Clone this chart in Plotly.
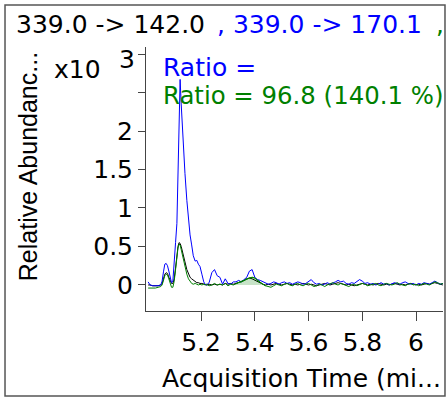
import plotly.graph_objects as go

# acquisition time (min) and abundance (x10^3) for the three transitions
time_min = [
    5.003, 5.010, 5.020, 5.030, 5.040, 5.050, 5.055, 5.060, 5.065, 5.070,
    5.075, 5.080, 5.085, 5.090, 5.095, 5.100, 5.105, 5.110, 5.114, 5.118,
    5.122, 5.126, 5.130, 5.134, 5.140, 5.147, 5.153, 5.159, 5.165, 5.171,
    5.178, 5.184, 5.190, 5.196, 5.203, 5.210, 5.215, 5.220, 5.230, 5.240,
    5.250, 5.260, 5.270, 5.280, 5.290, 5.300, 5.310, 5.320, 5.330, 5.340,
    5.350, 5.360, 5.370, 5.380, 5.390, 5.400, 5.410, 5.420, 5.430, 5.440,
    5.450, 5.460, 5.470, 5.480, 5.490, 5.500, 5.510, 5.520, 5.530, 5.540,
    5.550, 5.560, 5.570, 5.580, 5.590, 5.600, 5.610, 5.620, 5.630, 5.640,
    5.650, 5.660, 5.670, 5.680, 5.690, 5.700, 5.710, 5.720, 5.730, 5.740,
    5.750, 5.760, 5.770, 5.780, 5.790, 5.800, 5.810, 5.820, 5.830, 5.840,
    5.850, 5.860, 5.870, 5.880, 5.890, 5.900, 5.910, 5.920, 5.930, 5.940,
    5.950, 5.960, 5.970, 5.980, 5.990, 6.000, 6.010, 6.020, 6.030, 6.040,
    6.050, 6.060, 6.070, 6.080, 6.090, 6.100,
]

abund_142 = [
    0.00, 0.00, -0.01, -0.01, -0.01, 0.00, 0.02, 0.08, 0.14, 0.16,
    0.15, 0.10, 0.05, 0.02, 0.02, 0.08, 0.22, 0.40, 0.50, 0.55,
    0.54, 0.50, 0.45, 0.40, 0.30, 0.20, 0.14, 0.10, 0.08, 0.06,
    0.04, 0.03, 0.03, 0.02, 0.02, 0.01, 0.01, 0.00, 0.01, 0.00,
    0.01, 0.00, 0.01, 0.00, 0.02, 0.01, 0.02, 0.01, 0.02, 0.03,
    0.05, 0.06, 0.08, 0.09, 0.08, 0.06, 0.04, 0.02, 0.01, 0.00,
    0.01, 0.00, 0.01, 0.02, 0.01, 0.00, 0.01, 0.02, 0.01, 0.00,
    0.01, 0.00, 0.01, 0.02, 0.01, 0.00, 0.01, 0.00, -0.01, 0.00,
    0.01, 0.02, 0.01, 0.00, 0.01, 0.02, 0.03, 0.02, 0.01, 0.00,
    0.01, 0.00, -0.01, 0.00, 0.01, 0.02, 0.01, 0.00, 0.01, 0.00,
    0.01, 0.02, 0.01, 0.00, 0.01, 0.00, 0.01, 0.02, 0.01, 0.00,
    0.01, 0.00, 0.01, 0.02, 0.01, 0.00, 0.01, 0.00, 0.01, 0.02,
    0.01, 0.02, 0.03, 0.02, 0.01, 0.00,
]

abund_170 = [
    0.04, 0.00, -0.01, -0.01, -0.01, 0.00, 0.05, 0.17, 0.27, 0.28,
    0.25, 0.18, 0.08, 0.03, 0.05, 0.25, 0.55, 0.80, 1.45, 2.20,
    2.67, 2.35, 2.05, 1.85, 1.45, 1.10, 0.84, 0.65, 0.52, 0.38,
    0.31, 0.32, 0.27, 0.24, 0.14, 0.04, 0.01, 0.00, 0.03, 0.16,
    0.20, 0.12, 0.10, 0.01, 0.08, 0.02, 0.01, 0.04, 0.04, 0.06,
    0.04, 0.07, 0.10, 0.18, 0.20, 0.10, 0.07, 0.06, 0.04, 0.02,
    0.01, 0.02, 0.04, 0.03, 0.01, 0.03, 0.04, 0.02, 0.03, 0.01,
    0.02, 0.04, 0.03, 0.01, 0.02, 0.05, 0.07, 0.03, 0.01, 0.02,
    0.00, 0.01, 0.03, 0.01, 0.02, 0.04, 0.06, 0.04, 0.05, 0.02,
    0.01, 0.03, 0.02, 0.04, 0.07, 0.05, 0.02, 0.03, 0.01, 0.02,
    0.00, 0.01, 0.03, 0.01, 0.02, 0.00, 0.01, 0.03, 0.02, 0.01,
    0.03, 0.04, 0.02, 0.01, 0.02, 0.00, 0.02, 0.01, 0.03, 0.02,
    0.01, 0.03, 0.05, 0.03, 0.01, 0.02,
]

abund_third = [
    -0.04, -0.04, -0.04, -0.04, -0.03, -0.02, 0.00, 0.06, 0.12, 0.14,
    0.13, 0.08, 0.02, -0.03, -0.03, 0.05, 0.20, 0.38, 0.48, 0.53,
    0.52, 0.46, 0.40, 0.33, 0.22, 0.14, 0.08, 0.04, 0.02, 0.01,
    0.02, 0.01, 0.00, 0.01, 0.00, 0.01, 0.00, 0.01, -0.01, 0.00,
    0.02, 0.00, 0.01, 0.00, 0.02, -0.01, 0.01, 0.00, 0.02, 0.03,
    0.04, 0.06, 0.08, 0.09, 0.10, 0.09, 0.06, 0.03, 0.01, -0.01,
    -0.02, -0.03, -0.01, 0.01, 0.00, -0.01, 0.01, 0.02, 0.00, -0.01,
    0.01, 0.02, 0.00, -0.01, 0.01, 0.02, 0.00, -0.02, -0.01, 0.01,
    0.00, -0.02, 0.00, 0.02, 0.03, 0.01, 0.00, 0.02, 0.01, -0.01,
    -0.02, 0.00, 0.01, -0.01, 0.00, 0.02, 0.01, -0.01, 0.00, 0.01,
    0.02, 0.00, -0.01, 0.01, 0.02, 0.01, 0.00, 0.01, 0.03, 0.01,
    0.00, -0.01, 0.01, 0.02, 0.00, 0.01, -0.01, 0.00, 0.02, 0.01,
    0.00, 0.02, 0.04, 0.03, 0.01, 0.02,
]

x_ticks = [5.2, 5.4, 5.6, 5.8, 6]
x_ticklabels = ["5.2", "5.4", "5.6", "5.8", "6"]
y_ticks = [0, 0.5, 1, 1.5, 2, 2.5, 3]
y_ticklabels = ["0", "0.5", "1", "1.5", "2", "", ""]

FONT = "DejaVu Sans, sans-serif"
FONT_NARROW = "Liberation Sans, Arial, sans-serif"
BLUE = "#0000ff"
GREEN = "#008000"

fig = go.Figure()
fig.add_trace(go.Scatter(x=time_min, y=abund_142, mode="lines",
                         line=dict(color="black", width=1)))
fig.add_trace(go.Scatter(x=time_min, y=abund_170, mode="lines",
                         line=dict(color=BLUE, width=1)))
fig.add_trace(go.Scatter(x=time_min, y=abund_third, mode="lines",
                         line=dict(color=GREEN, width=1)))
# integrated area of the small later peak
fig.add_trace(go.Scatter(x=time_min[48:60], y=abund_third[48:60], mode="lines",
                         line=dict(color=GREEN, width=1), fill="tozeroy",
                         fillcolor="rgba(0,128,0,0.22)"))

annots = [
    dict(x=-0.4444, y=1.087, text="339.0 -> 142.0", font=dict(color="black"),
         xanchor="left"),
    dict(x=0.232, y=1.087, text=", 339.0 -> 170.1", font=dict(color=BLUE),
         xanchor="left"),
    dict(x=0.970, y=1.087, text=",", font=dict(color=GREEN), xanchor="left"),
    dict(x=-0.1448, y=0.913, text="x10", font=dict(color="black"),
         xanchor="right"),
    dict(x=-0.098, y=0.951, text="3", font=dict(color="black"), xanchor="left"),
    dict(x=-0.397, y=0.545, text="Relative Abundanc...", textangle=-90,
         font=dict(color="black", family=FONT_NARROW), xanchor="center"),
    dict(x=0.525, y=-0.254, text="Acquisition Time (mi...",
         font=dict(color="black"), xanchor="center"),
    dict(x=0.052, y=0.9205, text="Ratio =", font=dict(color=BLUE),
         xanchor="left"),
    dict(x=0.052, y=0.8144, text="Ratio = 96.8 (140.1 %)",
         font=dict(color=GREEN, size=24.4), xanchor="left"),
]
for a in annots:
    a["font"].setdefault("family", FONT)
    a["font"].setdefault("size", 25)
    fig.add_annotation(xref="paper", yref="paper", showarrow=False,
                       yanchor="middle", **a)

fig.add_shape(type="rect", xref="paper", yref="paper",
              x0=-0.4747, x1=1.0067, y0=-0.322, y1=1.159,
              line=dict(color="#555555", width=1.5))

fig.update_layout(
    width=447,
    height=399,
    margin=dict(l=146, r=4, t=47, b=88),
    paper_bgcolor="white",
    plot_bgcolor="white",
    showlegend=False,
    font=dict(family=FONT, size=25, color="black"),
    xaxis=dict(range=[4.995, 6.1005], tickvals=x_ticks, ticktext=x_ticklabels,
               ticks="outside", ticklen=9, tickcolor="#444", showline=True,
               linecolor="#444", linewidth=1, showgrid=False, zeroline=False),
    yaxis=dict(range=[-0.338, 3.091], tickvals=y_ticks, ticktext=y_ticklabels,
               ticks="outside", ticklen=7, tickcolor="#444", showline=True,
               linecolor="#444", linewidth=1, showgrid=False, zeroline=False),
)

# drop the browser's default 8px body margin so the figure sits at (0, 0)
fig.write_html("out.html", config={"displayModeBar": False},
               post_script="document.body.style.margin='0px';")
